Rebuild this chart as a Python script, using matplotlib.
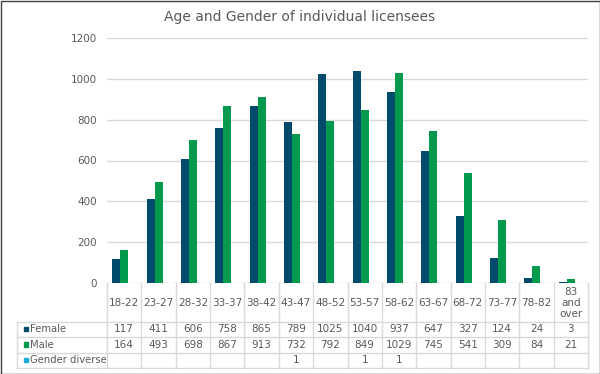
import matplotlib
matplotlib.use("Agg")
import matplotlib.pyplot as plt
from matplotlib.patches import Rectangle
import numpy as np

categories = ["18-22", "23-27", "28-32", "33-37", "38-42", "43-47", "48-52",
              "53-57", "58-62", "63-67", "68-72", "73-77", "78-82", "83\nand\nover"]
female = [117, 411, 606, 758, 865, 789, 1025, 1040, 937, 647, 327, 124, 24, 3]
male = [164, 493, 698, 867, 913, 732, 792, 849, 1029, 745, 541, 309, 84, 21]
diverse = [None, None, None, None, None, 1, None, 1, 1, None, None, None, None, None]
series_names = ["Female", "Male", "Gender diverse"]
colors = ["#004B6B", "#00994E", "#1AACD8"]
yticks = [0, 200, 400, 600, 800, 1000, 1200]

W, H = 600, 374
txt = "#595959"
grid = "#D9D9D9"
fs = 7.5

fig = plt.figure(figsize=(W / 100, H / 100), dpi=100)
fig.patch.set_facecolor("white")

# plot area in pixel coords
px0, px1, py_top, py0 = 107, 588, 38, 283
ax = fig.add_axes([px0 / W, (H - py0) / H, (px1 - px0) / W, (py0 - py_top) / H])
n = len(categories)
x = np.arange(n)
bw = 0.233
series = [female, male, [v if v is not None else 0 for v in diverse]]
for i, (vals, c) in enumerate(zip(series, colors)):
    ax.bar(x + (i - 1) * bw, vals, width=bw, color=c, zorder=3)
ax.set_xlim(-0.5, n - 0.5)
ax.set_ylim(0, 1200)
ax.set_yticks(yticks)
ax.set_yticklabels([str(t) for t in yticks], color=txt, fontsize=fs)
ax.tick_params(axis="y", length=0, pad=7)
ax.set_xticks([])
ax.yaxis.grid(True, color=grid, linewidth=1)
ax.set_axisbelow(True)
for s in ax.spines.values():
    s.set_visible(False)
ax.set_facecolor("none")

# overlay in pixel coordinates for title, data table and border
ov = fig.add_axes([0, 0, 1, 1], zorder=-1)
ov.set_xlim(0, W)
ov.set_ylim(H, 0)
ov.axis("off")

ov.text(W / 2, 17, "Age and Gender of individual licensees", ha="center",
        va="center", color=txt, fontsize=10)

cw = (px1 - px0) / n
rows_y = [321.5, 337, 352.5, 368]
left = 17
lc = dict(color=grid, linewidth=1)
for k in range(n + 1):
    xx = px0 + k * cw
    ov.plot([xx, xx], [py0, rows_y[-1]], **lc)
for yy in rows_y:
    ov.plot([left, px1], [yy, yy], **lc)
ov.plot([left, left], [rows_y[0], rows_y[-1]], **lc)

for k, cat in enumerate(categories):
    cx = px0 + (k + 0.5) * cw
    ov.text(cx, (py0 + rows_y[0]) / 2 + 1, cat, ha="center", va="center",
            color=txt, fontsize=fs, linespacing=1.15)

table_vals = [female, male, diverse]
for r, (name, c, vals) in enumerate(zip(series_names, colors, table_vals)):
    cy = (rows_y[r] + rows_y[r + 1]) / 2
    ov.add_patch(Rectangle((23.5, cy - 2.5), 4.5, 4.5, color=c))
    ov.text(30, cy, name, ha="left", va="center", color=txt, fontsize=7.2)
    for k, v in enumerate(vals):
        if v is None:
            continue
        ov.text(px0 + (k + 0.5) * cw, cy, str(v), ha="center", va="center",
                color=txt, fontsize=fs)

ov.add_patch(Rectangle((0.5, 0.5), W - 1, H - 1, fill=False,
                       edgecolor="#404040", linewidth=1))

fig.savefig("out.png", dpi=100)
